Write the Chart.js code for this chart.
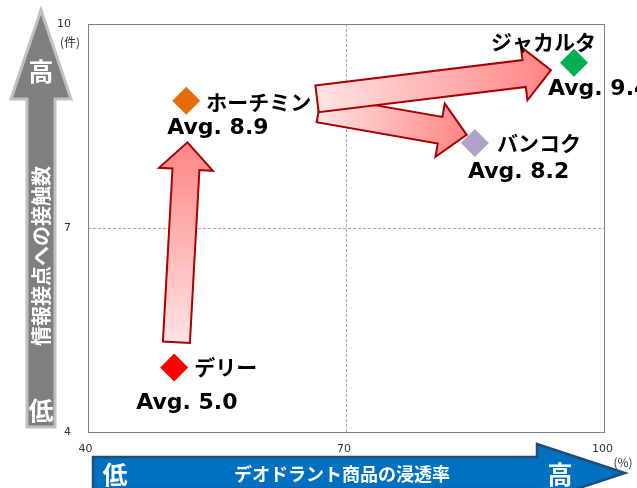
<!DOCTYPE html>
<html>
<head>
<meta charset="utf-8">
<script src="https://cdn.jsdelivr.net/npm/chart.js@4.4.1/dist/chart.umd.min.js"></script>
<style>
  html, body { margin: 0; padding: 0; background: #fff; }
</style>
</head>
<body>
<canvas id="myChart" width="637" height="488"></canvas>
<script>
const cities = ["デリー", "ホーチミン", "バンコク", "ジャカルタ"];
const penetration = [50.0, 51.4, 84.9, 96.4];
const contacts = [4.95, 8.87, 8.25, 9.43];
const avgLabels = ["Avg. 5.0", "Avg. 8.9", "Avg. 8.2", "Avg. 9.4"];
const pointColors = ["#ff0000", "#e46c0a", "#b3a2c7", "#00b050"];
const xTicks = [40, 70, 100];
const yTicks = [4, 7, 10];

// movement arrows between cities (data units)
const arrowFromX = [50.26, 66.81, 66.58];
const arrowFromY = [5.32, 8.75, 8.90];
const arrowToX = [51.54, 83.95, 93.73];
const arrowToY = [8.26, 8.37, 9.32];

// label placement, pixels relative to the marker
const nameOffset = [[20, 0], [20, 1], [22, 0], [-83, -21]];
const avgOffset = [[-38, 36], [-19, 27], [-7, 29], [-26, 27]];

const jpFont = '"Noto Sans CJK JP", "Noto Sans", sans-serif';

function blockArrow(ctx, x1, y1, x2, y2, shaft, headW, headL, fill, stroke, lw) {
  const ang = Math.atan2(y2 - y1, x2 - x1);
  const len = Math.hypot(x2 - x1, y2 - y1);
  ctx.save();
  ctx.translate(x1, y1);
  ctx.rotate(ang);
  ctx.beginPath();
  ctx.moveTo(0, -shaft / 2);
  ctx.lineTo(len - headL, -shaft / 2);
  ctx.lineTo(len - headL, -headW / 2);
  ctx.lineTo(len, 0);
  ctx.lineTo(len - headL, headW / 2);
  ctx.lineTo(len - headL, shaft / 2);
  ctx.lineTo(0, shaft / 2);
  ctx.closePath();
  if (Array.isArray(fill)) {
    const g = ctx.createLinearGradient(0, 0, len, 0);
    g.addColorStop(0, fill[0]);
    g.addColorStop(1, fill[1]);
    ctx.fillStyle = g;
  } else {
    ctx.fillStyle = fill;
  }
  ctx.fill();
  ctx.lineJoin = "miter";
  ctx.lineWidth = lw;
  ctx.strokeStyle = stroke;
  ctx.stroke();
  ctx.restore();
}

const decor = {
  id: "decor",
  beforeDatasetsDraw(chart) {
    const { ctx, chartArea: a, scales: { x, y } } = chart;
    // plot frame
    ctx.save();
    ctx.strokeStyle = "#808080";
    ctx.lineWidth = 1;
    ctx.strokeRect(a.left + 0.5, a.top + 0.5, a.right - a.left - 1, a.bottom - a.top);
    ctx.restore();
    // movement arrows, bangkok first so jakarta lies on top
    [0, 1, 2].forEach(i => {
      blockArrow(ctx,
        x.getPixelForValue(arrowFromX[i]), y.getPixelForValue(arrowFromY[i]),
        x.getPixelForValue(arrowToX[i]), y.getPixelForValue(arrowToY[i]),
        27, 54, 27, ["#ffe3e3", "#ff8585"], "#a80000", 2);
    });
  },
  afterDatasetsDraw(chart) {
    const { ctx } = chart;
    const meta = chart.getDatasetMeta(0);
    ctx.save();
    ctx.fillStyle = "#000";
    ctx.textAlign = "left";
    ctx.textBaseline = "middle";
    meta.data.forEach((pt, i) => {
      ctx.font = "bold 21px " + jpFont;
      ctx.fillText(cities[i], pt.x + nameOffset[i][0], pt.y + nameOffset[i][1]);
      ctx.font = 'bold 22px "DejaVu Sans", Verdana, sans-serif';
      ctx.fillText(avgLabels[i], pt.x + avgOffset[i][0], pt.y + avgOffset[i][1]);
    });
    ctx.restore();
  },
  afterDraw(chart) {
    const { ctx } = chart;
    // vertical axis arrow
    blockArrow(ctx, 41, 427, 41, 10, 28, 60, 89, "#7f7f7f", "#c0c0c0", 3);
    // horizontal axis arrow
    blockArrow(ctx, 93, 473, 625, 473, 32, 58, 88, "#0070c0", "#1f4e79", 2.5);
    ctx.save();
    ctx.fillStyle = "#fff";
    ctx.textAlign = "center";
    ctx.textBaseline = "middle";
    ctx.font = "bold 25px " + jpFont;
    ctx.fillText("高", 41, 71);
    ctx.fillText("低", 41, 410);
    ctx.fillText("低", 115, 474);
    ctx.fillText("高", 560, 474);
    ctx.font = "bold 18px " + jpFont;
    ctx.fillText("デオドラント商品の浸透率", 342, 474);
    ctx.save();
    ctx.translate(41, 256);
    ctx.rotate(-Math.PI / 2);
    ctx.font = "bold 20px " + jpFont;
    ctx.fillText("情報接点への接触数", 0, 0);
    ctx.restore();
    // units
    ctx.fillStyle = "#333";
    ctx.font = '12px ' + jpFont;
    ctx.fillText("(件)", 70, 42);
    ctx.fillText("(%)", 623, 462);
    ctx.restore();
  }
};

const chartCtx = document.getElementById("myChart").getContext("2d");
const chart = new Chart(chartCtx, {
  type: "scatter",
  data: {
    datasets: [{
      data: penetration.map((v, i) => ({ x: v, y: contacts[i] })),
      pointStyle: "rectRot",
      pointRadius: 14,
      pointHoverRadius: 14,
      pointBorderWidth: 0,
      pointBackgroundColor: pointColors,
      pointBorderColor: pointColors
    }]
  },
  options: {
    responsive: false,
    animation: false,
    events: [],
    layout: { padding: { top: 24, right: 32, left: 0, bottom: 0 } },
    plugins: {
      legend: { display: false },
      tooltip: { enabled: false }
    },
    scales: {
      x: {
        type: "linear",
        min: 40,
        max: 100,
        afterFit: s => { s.height = 56; },
        afterBuildTicks: s => { s.ticks = xTicks.map(v => ({ value: v })); },
        ticks: {
          padding: 11,
          labelOffset: -2.5,
          color: "#333",
          font: { family: '"DejaVu Sans", Verdana, sans-serif', size: 11 }
        },
        grid: {
          drawTicks: false,
          color: c => (c.tick && c.tick.value === 70) ? "#a6a6a6" : "transparent"
        },
        border: { display: false, dash: [3, 2] }
      },
      y: {
        type: "linear",
        min: 4,
        max: 10,
        afterFit: s => { s.width = 88; },
        afterBuildTicks: s => { s.ticks = yTicks.map(v => ({ value: v })); },
        ticks: {
          padding: 17,
          color: "#333",
          font: { family: '"DejaVu Sans", Verdana, sans-serif', size: 11 }
        },
        grid: {
          drawTicks: false,
          color: c => (c.tick && c.tick.value === 7) ? "#a6a6a6" : "transparent"
        },
        border: { display: false, dash: [3, 2] }
      }
    }
  },
  plugins: [decor]
});
</script>
</body>
</html>
